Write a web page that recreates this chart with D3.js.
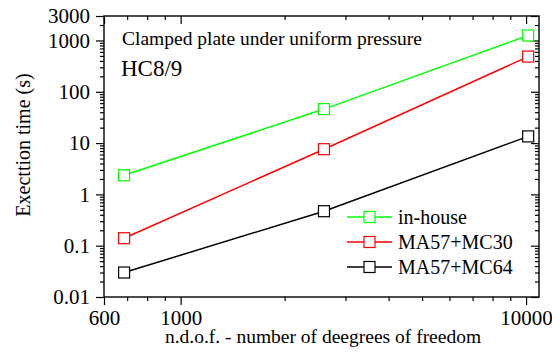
<!DOCTYPE html>
<html>
<head>
<meta charset="utf-8">
<script src="https://cdn.jsdelivr.net/npm/d3@7/dist/d3.min.js"></script>
<style>
  html, body { margin: 0; padding: 0; background: #fff; }
</style>
</head>
<body>
<svg id="chart" width="552" height="356"></svg>
<script>
// ---- data ----
const ndof = [686, 2600, 10140];
const inHouse = [2.36, 46, 1250];
const ma57mc30 = [0.14, 7.6, 485];
const ma57mc64 = [0.03, 0.47, 13.5];
const seriesNames = ["in-house", "MA57+MC30", "MA57+MC64"];
const seriesColors = ["#00ff00", "#ff0000", "#000000"];
const xTickValues = [600, 1000, 10000];
const xTickLabels = ["600", "1000", "10000"];
const yTickValues = [0.01, 0.1, 1, 10, 100, 1000, 3000];
const yTickLabels = ["0.01", "0.1", "1", "10", "100", "1000", "3000"];
const xDomain = [600, 10900];
const yDomain = [0.01, 3000];

(function () {
const FONT = "'Liberation Serif', 'Times New Roman', serif";
const svg = d3.select("#chart");
const pL = 104, pR = 539, pT = 16, pB = 297;

const x = d3.scaleLog().domain(xDomain).range([pL, pR]);
const y = d3.scaleLog().domain(yDomain).range([pB, pT]);

// minor tick values
const xMinor = [];
for (let d = 100; d <= 10000; d *= 10)
  for (let k = 1; k <= 9; k++) {
    const v = k * d;
    if (v >= xDomain[0] && v <= xDomain[1] && !xTickValues.includes(v)) xMinor.push(v);
  }
const yMinor = [];
for (let e = -2; e <= 3; e++)
  for (let k = 1; k <= 9; k++) {
    const v = +(k * Math.pow(10, e)).toPrecision(6);
    if (v >= yDomain[0] && v <= yDomain[1] && !yTickValues.some(t => Math.abs(t - v) / v < 1e-6)) yMinor.push(v);
  }

const tickFont = 21;
function styleAxis(g) {
  g.select(".domain").remove();
  g.attr("font-family", null);
  g.selectAll("line").attr("stroke", "#000").attr("stroke-width", 1.2);
  g.selectAll("text").style("font-size", tickFont + "px").attr("fill", "#000")
    .style("font-family", FONT);
}

// bottom axis (outward)
svg.append("g").attr("transform", `translate(0,${pB})`)
  .call(d3.axisBottom(x).tickValues(xMinor).tickSize(4).tickFormat(""))
  .call(styleAxis);
svg.append("g").attr("transform", `translate(0,${pB})`)
  .call(d3.axisBottom(x).tickValues(xTickValues).tickSize(8).tickPadding(5)
        .tickFormat((d, i) => xTickLabels[i]))
  .call(styleAxis);
// top axis (inward)
svg.append("g").attr("transform", `translate(0,${pT})`)
  .call(d3.axisTop(x).tickValues(xMinor).tickSize(-4).tickFormat(""))
  .call(styleAxis);
svg.append("g").attr("transform", `translate(0,${pT})`)
  .call(d3.axisTop(x).tickValues(xTickValues).tickSize(-8).tickFormat(""))
  .call(styleAxis);
// left axis (outward)
svg.append("g").attr("transform", `translate(${pL},0)`)
  .call(d3.axisLeft(y).tickValues(yMinor).tickSize(4).tickFormat(""))
  .call(styleAxis);
svg.append("g").attr("transform", `translate(${pL},0)`)
  .call(d3.axisLeft(y).tickValues(yTickValues).tickSize(8).tickPadding(6)
        .tickFormat((d, i) => yTickLabels[i]))
  .call(styleAxis);
// right axis (inward)
svg.append("g").attr("transform", `translate(${pR},0)`)
  .call(d3.axisRight(y).tickValues(yMinor).tickSize(-4).tickFormat(""))
  .call(styleAxis);
svg.append("g").attr("transform", `translate(${pR},0)`)
  .call(d3.axisRight(y).tickValues(yTickValues).tickSize(-8).tickFormat(""))
  .call(styleAxis);

// frame
svg.append("rect").attr("x", pL).attr("y", pT)
  .attr("width", pR - pL).attr("height", pB - pT)
  .attr("fill", "none").attr("stroke", "#000").attr("stroke-width", 1.4);

// series
const series = [inHouse, ma57mc30, ma57mc64];
const line = d3.line().x(d => x(d[0])).y(d => y(d[1]));
const ms = 11;
series.forEach((vals, si) => {
  const pts = ndof.map((n, i) => [n, vals[i]]);
  svg.append("path").datum(pts).attr("d", line)
    .attr("fill", "none").attr("stroke", seriesColors[si]).attr("stroke-width", 1.5);
  svg.selectAll(null).data(pts).enter().append("rect")
    .attr("x", d => x(d[0]) - ms / 2).attr("y", d => y(d[1]) - ms / 2)
    .attr("width", ms).attr("height", ms)
    .attr("fill", "#fff").attr("stroke", seriesColors[si]).attr("stroke-width", 1.2);
});

function txt(xp, yp, size, s) {
  return svg.append("text").attr("x", xp).attr("y", yp)
    .style("font-family", FONT).style("font-size", size + "px").attr("fill", "#000").text(s);
}

// legend
const legY = [217, 242, 267];
seriesNames.forEach((name, i) => {
  svg.append("line").attr("x1", 347).attr("x2", 392).attr("y1", legY[i]).attr("y2", legY[i])
    .attr("stroke", seriesColors[i]).attr("stroke-width", 1.5);
  svg.append("rect").attr("x", 369.5 - ms / 2).attr("y", legY[i] - ms / 2)
    .attr("width", ms).attr("height", ms)
    .attr("fill", "#fff").attr("stroke", seriesColors[i]).attr("stroke-width", 1.2);
  txt(398, legY[i] + 6.5, 20, name);
});

// annotations
txt(122, 45, 19.5, "Clamped plate under uniform pressure");
txt(121, 76, 23, "HC8/9");

// axis titles
txt(323, 343, 19.5, "n.d.o.f. - number of deegrees of freedom").attr("text-anchor", "middle");
txt(0, 0, 20, "Execttion time (s)").attr("text-anchor", "middle")
  .attr("transform", "translate(30,145) rotate(-90)");
})();
</script>
</body>
</html>
